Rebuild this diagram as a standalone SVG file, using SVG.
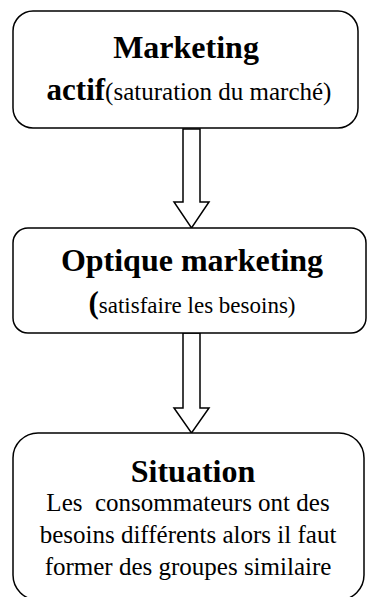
<svg xmlns="http://www.w3.org/2000/svg" width="368" height="597" viewBox="0 0 368 597">
<style>
.box{fill:#fff;stroke:#000;stroke-width:1.5}
.arr{fill:#fff;stroke:#000;stroke-width:1.5;stroke-linejoin:miter}
.t{font-family:"Liberation Serif","Times New Roman","DejaVu Serif",serif;fill:#000;font-weight:normal;font-style:normal}
.h{font-weight:bold;font-size:32px}
.b{font-weight:bold}
</style>
<rect width="368" height="597" fill="#fff"/>
<g id="connectors">
<polygon class="arr" points="183,129 200,129 200,202 209,202 191.5,228 174,202 183,202"/>
<polygon class="arr" points="183,333 200,333 200,408 209,408 191.5,433 174,408 183,408"/>
</g>
<g id="node1">
<rect class="box" x="13" y="11" width="345" height="117" rx="20" ry="20"/>
<text class="t h" x="186" y="58" text-anchor="middle">Marketing</text>
<text class="t" x="189" y="100" text-anchor="middle"><tspan class="b" font-size="31">actif</tspan><tspan font-size="25" font-weight="normal">(saturation du marché)</tspan></text>
</g>
<g id="node2">
<rect class="box" x="13" y="228" width="353" height="105" rx="15" ry="15"/>
<text class="t h" x="192" y="271" text-anchor="middle">Optique marketing</text>
<text class="t" x="192" y="313" text-anchor="middle"><tspan class="b" font-size="31">(</tspan><tspan font-size="23" font-weight="normal">satisfaire les besoins)</tspan></text>
</g>
<g id="node3">
<rect class="box" x="13" y="433" width="351" height="167" rx="25" ry="25"/>
<text class="t h" x="193" y="482" text-anchor="middle">Situation</text>
<text class="t" font-size="25" x="188" y="511" text-anchor="middle" xml:space="preserve">Les  consommateurs ont des</text>
<text class="t" font-size="25" x="188" y="543" text-anchor="middle">besoins différents alors il faut</text>
<text class="t" font-size="25" x="188" y="575" text-anchor="middle">former des groupes similaire</text>
</g>
</svg>
